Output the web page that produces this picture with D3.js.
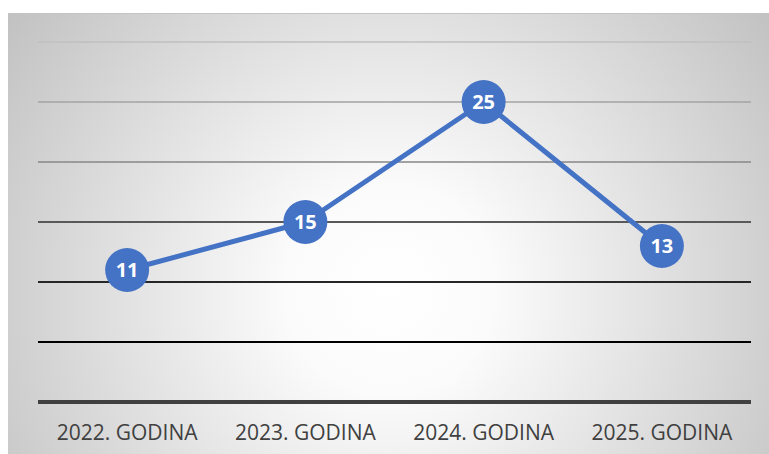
<!DOCTYPE html>
<html>
<head>
<meta charset="utf-8">
<script src="https://cdn.jsdelivr.net/npm/d3@7"></script>
<style>
  body { margin: 0; background: #fff; }
  svg { display: block; }
</style>
</head>
<body>
<svg id="chart"></svg>
<script>
const categories = ['2022. GODINA', '2023. GODINA', '2024. GODINA', '2025. GODINA'];
const values = [11, 15, 25, 13];
const yTicks = [0, 5, 10, 15, 20, 25, 30];
// grid colours go from light at the top to black at the bottom
const gridColors = ['#000000', '#000000', '#262626', '#595959', '#8c8c8c', '#a6a6a6', '#c0c0c0'];

const width = 769, height = 454;
const margin = { top: 42, right: 18, bottom: 52, left: 38 };

const svg = d3.select('#chart')
  .attr('width', width)
  .attr('height', height);

const defs = svg.append('defs');
const grad = defs.append('radialGradient')
  .attr('id', 'bg')
  .attr('gradientUnits', 'userSpaceOnUse')
  .attr('cx', 390).attr('cy', 290).attr('r', 520);
grad.append('stop').attr('offset', '0%').attr('stop-color', '#ffffff');
grad.append('stop').attr('offset', '20%').attr('stop-color', '#fbfbfb');
grad.append('stop').attr('offset', '100%').attr('stop-color', '#bababa');

svg.append('rect')
  .attr('x', 8).attr('y', 13)
  .attr('width', width - 8).attr('height', height - 13)
  .attr('fill', 'url(#bg)');
svg.append('line')
  .attr('x1', 8).attr('x2', width).attr('y1', 13.5).attr('y2', 13.5)
  .attr('stroke', '#c4c4c4').attr('stroke-width', 1);

const chartWidth = width - margin.left - margin.right;
const chartHeight = height - margin.top - margin.bottom;

const x = d3.scaleBand()
  .domain(categories)
  .range([0, chartWidth]);

const y = d3.scaleLinear()
  .domain([0, 30])
  .range([chartHeight, 0]);

const g = svg.append('g')
  .attr('transform', `translate(${margin.left},${margin.top})`);

// Gridlines
g.selectAll('.grid')
  .data(yTicks.filter(d => d > 0))
  .enter().append('line')
  .attr('class', 'grid')
  .attr('x1', 0).attr('x2', chartWidth)
  .attr('y1', d => y(d)).attr('y2', d => y(d))
  .attr('stroke', d => gridColors[yTicks.indexOf(d)])
  .attr('stroke-opacity', d => d >= 20 ? 0.8 : 1)
  .attr('stroke-width', 2);

// Baseline
g.append('line')
  .attr('x1', 0).attr('x2', chartWidth)
  .attr('y1', y(0)).attr('y2', y(0))
  .attr('stroke', '#404040')
  .attr('stroke-width', 4);

// X Axis labels
const xAxis = g.append('g')
  .attr('transform', `translate(0,${chartHeight})`)
  .call(d3.axisBottom(x).tickSize(0).tickPadding(23));
xAxis.select('.domain').remove();
xAxis.selectAll('text')
  .style('font-family', '"Open Sans", sans-serif')
  .style('font-size', '21px')
  .attr('fill', '#404040');

const cx = d => x(d.cat) + x.bandwidth() / 2;
const pts = categories.map((c, i) => ({ cat: c, v: values[i] }));

// Line
g.append('path')
  .datum(pts)
  .attr('fill', 'none')
  .attr('stroke', '#4472c4')
  .attr('stroke-width', 5)
  .attr('stroke-linejoin', 'round')
  .attr('d', d3.line().x(cx).y(d => y(d.v)));

// Markers
g.selectAll('.dot')
  .data(pts)
  .enter().append('circle')
  .attr('cx', cx)
  .attr('cy', d => y(d.v))
  .attr('r', 22)
  .attr('fill', '#4472c4');

g.selectAll('.lbl')
  .data(pts)
  .enter().append('text')
  .attr('x', cx)
  .attr('y', d => y(d.v))
  .attr('dy', '0.36em')
  .attr('text-anchor', 'middle')
  .style('font-family', '"Open Sans", sans-serif')
  .style('font-weight', 'bold')
  .style('font-size', '20px')
  .attr('fill', '#ffffff')
  .text(d => d.v);
</script>
</body>
</html>
